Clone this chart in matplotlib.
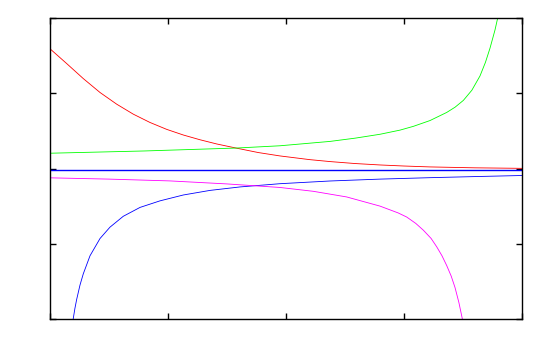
import matplotlib
matplotlib.use("Agg")
import matplotlib.pyplot as plt

# Values (x range 0..4, y range -2..2)
red_x = [0.0, 0.141, 0.282, 0.424, 0.565, 0.706, 0.847, 0.989, 1.130, 1.271, 1.413, 1.582,
         1.765, 1.949, 2.200, 2.373, 2.585, 2.797, 3.000, 3.220, 3.600, 4.0]
red_y = [1.591, 1.395, 1.195, 1.010, 0.855, 0.722, 0.612, 0.520, 0.445, 0.382, 0.326, 0.270,
         0.212, 0.167, 0.118, 0.092, 0.066, 0.047, 0.033, 0.021, 0.009, 0.002]

green_x = [0.0, 0.8, 1.582, 1.949, 2.373, 2.585, 2.797, 2.966, 3.079, 3.220, 3.362, 3.433,
           3.503, 3.575, 3.644, 3.690, 3.729, 3.771, 3.794]
green_y = [0.203, 0.233, 0.272, 0.302, 0.36, 0.403, 0.455, 0.51, 0.56, 0.637, 0.745, 0.815,
           0.905, 1.04, 1.23, 1.41, 1.60, 1.84, 2.0]

magenta_x = [0.0, 0.5, 1.017, 1.5, 1.949, 2.231, 2.514, 2.797, 2.950, 3.023, 3.100, 3.164,
             3.230, 3.277, 3.322, 3.362, 3.400, 3.432, 3.465, 3.494]
magenta_y = [-0.124, -0.141, -0.165, -0.205, -0.252, -0.303, -0.378, -0.50, -0.59, -0.645,
             -0.73, -0.82, -0.93, -1.04, -1.16, -1.29, -1.43, -1.58, -1.78, -1.995]

blue_x = [0.197, 0.211, 0.226, 0.254, 0.282, 0.339, 0.424, 0.508, 0.621, 0.763, 0.932, 1.130,
          1.356, 1.610, 1.949, 2.373, 2.797, 3.220, 3.610, 4.0]
blue_y = [-1.995, -1.86, -1.74, -1.55, -1.40, -1.16, -0.93, -0.78, -0.635, -0.517, -0.43,
          -0.352, -0.291, -0.245, -0.202, -0.166, -0.141, -0.122, -0.107, -0.093]

hline_y = -0.015

x_ticks = [0, 1, 2, 3, 4]
y_ticks = [-2, -1, 0, 1, 2]

fig = plt.figure(figsize=(5.5, 3.5), dpi=100)
ax = fig.add_axes([50 / 550, 31 / 350, 472 / 550, 301 / 350])

ax.plot(red_x, red_y, color="#ff0000", lw=0.6)
ax.plot(green_x, green_y, color="#00ff00", lw=0.6)
ax.axhline(hline_y, color="#0000ff", lw=1.0)
ax.plot(blue_x, blue_y, color="#0000ff", lw=0.6)
ax.plot(magenta_x, magenta_y, color="#ff00ff", lw=0.6)

ax.set_xlim(0, 4)
ax.set_ylim(-2, 2)
ax.set_xticks(x_ticks)
ax.set_yticks(y_ticks)
ax.tick_params(direction="in", length=4, width=1, color="black",
               top=True, right=True, labelbottom=False, labelleft=False)
for s in ax.spines.values():
    s.set_linewidth(1.0)
    s.set_color("black")

fig.savefig("out.png", dpi=100)
